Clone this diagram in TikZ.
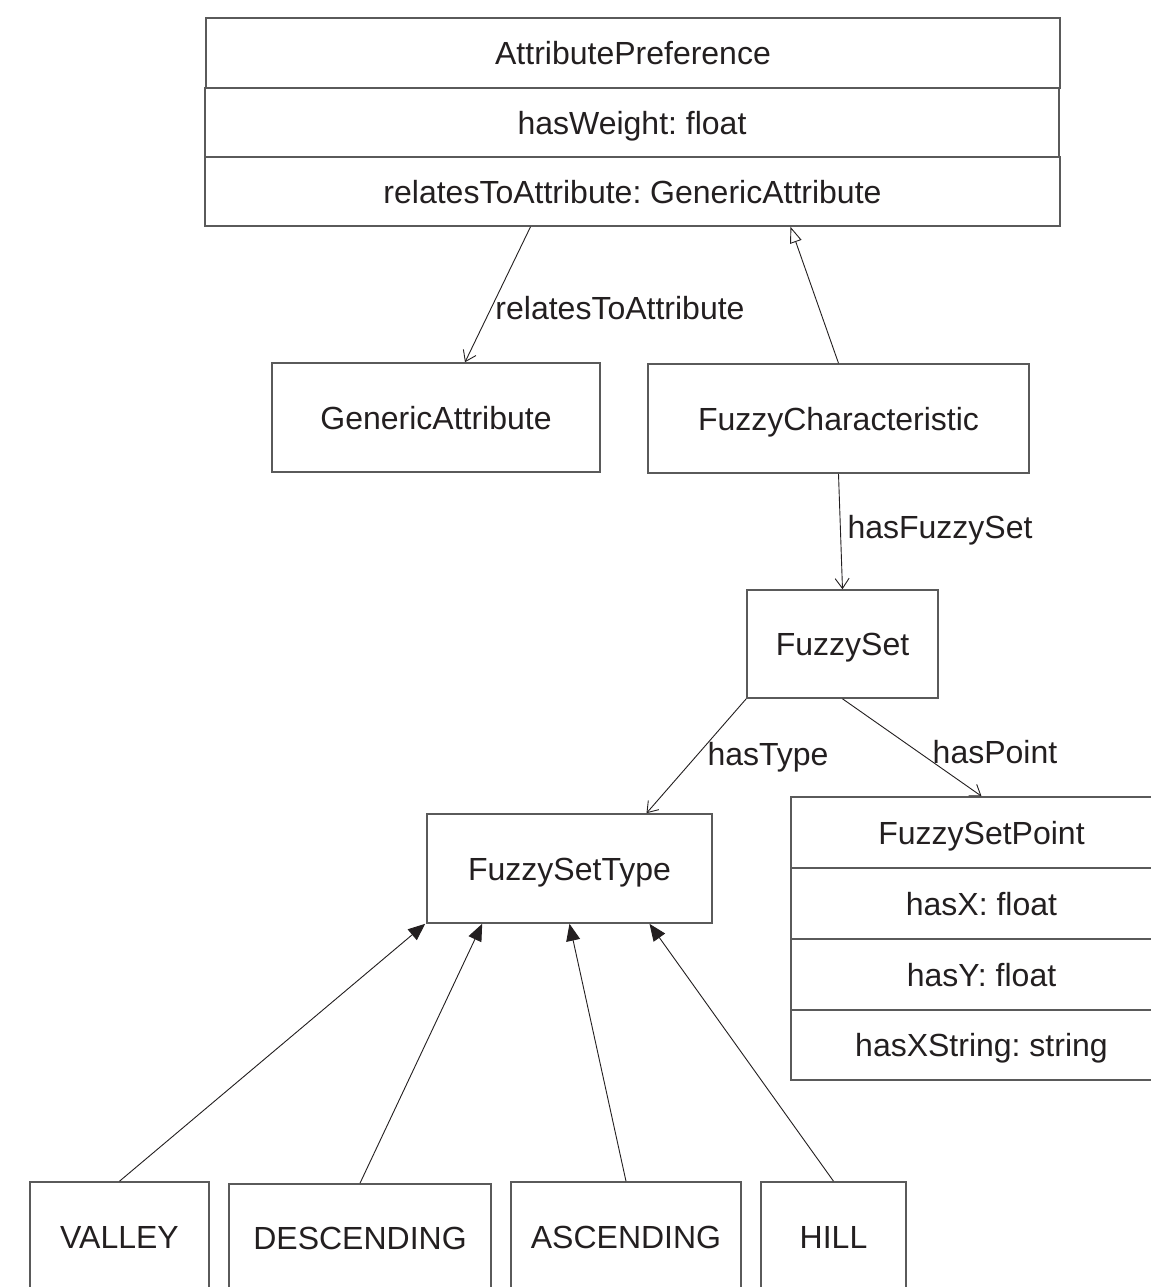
\documentclass[tikz,border=0pt]{standalone}
\usepackage{fontspec}
\setmainfont{Liberation Sans}
\usetikzlibrary{arrows.meta,positioning,calc,fit}
\definecolor{umlline}{HTML}{5A5A5A}
\definecolor{umltext}{HTML}{231F20}
\tikzset{
  labeltext/.style={font=\fontsize{16}{19}\selectfont\frenchspacing,text=umltext},
  box/.style={draw=umlline,line width=0.8pt,inner sep=0pt,
    label={[labeltext,text height=11.5pt,text depth=0pt]center:#1}},
  assoc/.style={-{Straight Barb[length=5pt,width=7pt]},line width=0.45pt,umltext},
  inherit/.style={-{Triangle[open,length=8pt,width=6pt]},line width=0.45pt,umltext},
  instance/.style={-{Triangle[length=8.5pt,width=7pt]},line width=0.45pt,umltext}
}

\begin{document}
\begin{tikzpicture}[x=0.5pt,y=-0.5pt]
\clip (0,0) rectangle (1151,1287);
\fill[white] (0,0) rectangle (1151,1287);
\node[box=AttributePreference,fit={(206,18) (1060,88)}] (apName) {};
\node[box={hasWeight: float},fit={(205,88) (1059,157)}] (apWeight) {};
\node[box={relatesToAttribute: GenericAttribute},fit={(205,157) (1060,226)}] (apAttr) {};
\node[box=GenericAttribute,fit={(272,363) (600,472)}] (ga) {};
\node[box=FuzzyCharacteristic,fit={(648,364) (1029,473)}] (fc) {};
\node[box=FuzzySet,fit={(747,590) (938,698)}] (fs) {};
\node[box=FuzzySetType,fit={(427,814) (712,923)}] (fst) {};
\node[box=FuzzySetPoint,fit={(791,797) (1172,868)}] (fspName) {};
\node[box={hasX: float},fit={(791,868) (1172,939)}] (fspX) {};
\node[box={hasY: float},fit={(791,939) (1172,1010)}] (fspY) {};
\node[box={hasXString: string},fit={(791,1010) (1172,1080)}] (fspXs) {};
\node[box=VALLEY,fit={(30,1182) (209,1292)}] (valley) {};
\node[box=DESCENDING,fit={(229,1184) (491,1292)}] (desc) {};
\node[box=ASCENDING,fit={(511,1182) (741,1292)}] (asc) {};
\node[box=HILL,fit={(761,1182) (906,1292)}] (hill) {};

\draw[assoc] ($(apAttr.south)+(-102,0)$) -- ($(ga.north)+(29,0)$);
\node[labeltext] (lblAttr) at (620,308) {relatesToAttribute};
\draw[inherit] (fc.north) -- ($(apAttr.south)+(158,0)$);
\draw[assoc] (fc.south) -- (fs.north);
\node[labeltext] (lblSet) at (940,530) {hasFuzzySet};
\draw[assoc] (fs.south west) -- ($(fst.north)+(77,0)$);
\node[labeltext] (lblType) at (768,757) {hasType};
\draw[assoc] (fs.south) -- (fspName.north);
\node[labeltext] (lblPoint) at (995,752) {hasPoint};

\draw[instance] (valley.north) -- ($(fst.south west)+(-1,0)$);
\draw[instance] (desc.north) -- ($(fst.south west)+(56,0)$);
\draw[instance] (asc.north) -- (fst.south);
\draw[instance] (hill.north) -- ($(fst.south)+(80,0)$);
\end{tikzpicture}
\end{document}
